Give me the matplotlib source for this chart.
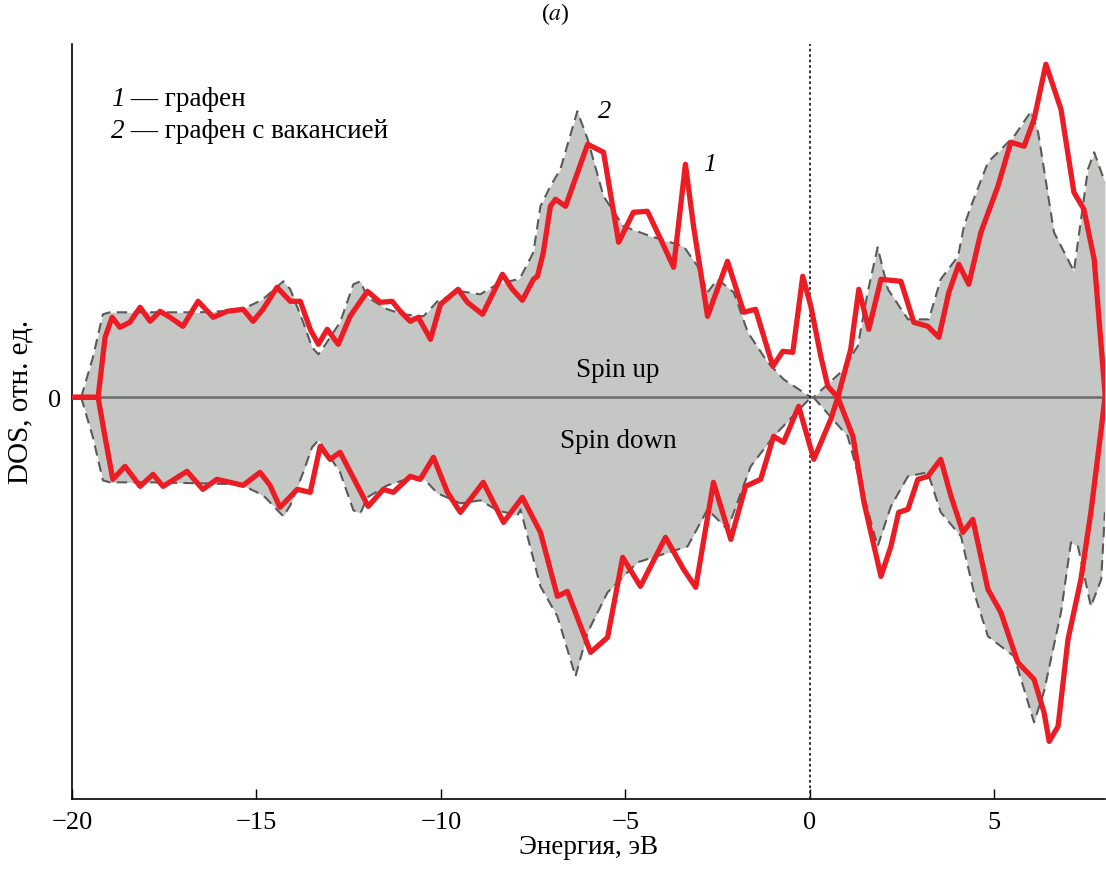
import matplotlib.pyplot as plt

plt.rcParams["font.family"] = ["Liberation Serif", "DejaVu Serif"]
plt.rcParams["mathtext.fontset"] = "stix"

# graphene with vacancy (grey fill), spin up / spin down
grey_up_e = [-19.75, -19.43, -19.16, -18.97, -17.88, -16.53, -15.44, -14.98, -14.76, -14.27,
             -14.08, -13.73, -13.49, -13.32, -13.27, -12.73, -12.37, -12.18, -11.99, -11.45,
             -11.02, -10.47, -10.09, -9.47, -8.93, -8.47, -7.92, -7.84, -7.49, -7.30,
             -7.03, -6.76, -6.30, -6.02, -5.59, -5.05, -4.31, -3.42, -3.04, -2.77,
             -2.50, -2.06, -1.68, -1.14, -0.71, 0.03, 0.10, 0.84, 1.30, 1.57,
             1.84, 2.12, 2.66, 3.23, 3.55, 4.02, 4.18, 4.37, 4.83, 5.54,
             6.00, 6.19, 6.62, 7.16, 7.54, 7.71, 8.0]
grey_up = [0.0, 0.40, 0.83, 0.85, 0.85, 0.85, 0.87, 0.95, 1.00, 1.16,
           1.08, 0.75, 0.50, 0.43, 0.45, 0.75, 1.13, 1.16, 1.00, 0.88,
           0.83, 0.81, 0.96, 1.06, 1.03, 1.13, 1.18, 1.20, 1.45, 1.91,
           2.11, 2.28, 2.86, 2.58, 2.01, 1.71, 1.61, 1.51, 1.31, 1.05,
           1.18, 1.05, 0.65, 0.35, 0.18, 0.0, 0.0, 0.25, 0.51, 1.05,
           1.50, 1.08, 0.78, 0.78, 1.18, 1.41, 1.71, 1.91, 2.35, 2.61,
           2.86, 2.65, 1.65, 1.26, 2.28, 2.45, 2.15]

grey_dn_e = [-19.75, -19.43, -19.16, -18.97, -17.88, -16.53, -15.44, -14.98, -14.76, -14.27,
             -14.08, -13.73, -13.49, -13.32, -13.27, -12.73, -12.37, -12.18, -11.99, -11.45,
             -11.02, -10.47, -10.09, -9.47, -8.93, -8.47, -7.92, -7.84, -7.30, -6.84,
             -6.35, -6.02, -5.48, -4.67, -3.31, -2.77, -2.23, -1.60, -0.98, 0.03,
             0.10, 1.03, 1.84, 2.20, 2.66, 3.20, 3.55, 4.10, 4.45, 4.83,
             5.54, 6.08, 6.35, 6.81, 7.08, 7.27, 7.62, 7.90, 8.0]
grey_dn = [0.0, -0.40, -0.83, -0.85, -0.85, -0.86, -0.87, -0.95, -1.00, -1.19,
           -1.08, -0.75, -0.50, -0.43, -0.45, -0.75, -1.13, -1.16, -1.00, -0.88,
           -0.83, -0.81, -0.96, -1.06, -1.03, -1.13, -1.18, -1.12, -1.89, -2.19,
           -2.79, -2.35, -1.95, -1.65, -1.49, -1.12, -1.32, -0.69, -0.39, 0.0,
           0.0, -0.39, -1.49, -1.09, -0.79, -0.75, -1.15, -1.39, -1.95, -2.39,
           -2.59, -3.25, -2.94, -2.15, -1.45, -1.49, -2.09, -1.82, -1.15]

# pristine graphene (red)
red_up_e = [-20.0, -19.29, -19.10, -18.91, -18.70, -18.43, -18.15, -17.88, -17.61, -17.34,
            -16.99, -16.58, -16.17, -15.79, -15.36, -15.09, -14.82, -14.44, -14.08, -13.81,
            -13.54, -13.32, -13.08, -12.78, -12.46, -11.99, -11.64, -11.32, -11.10, -10.83,
            -10.61, -10.28, -10.01, -9.53, -9.28, -8.87, -8.33, -8.06, -7.79, -7.49,
            -7.38, -7.22, -7.03, -6.89, -6.62, -6.02, -5.59, -5.18, -4.78, -4.40,
            -4.04, -3.69, -3.37, -3.15, -2.77, -2.23, -1.79, -1.47, -1.00, -0.73,
            -0.46, -0.19, 0.03, 0.30, 0.49, 0.76, 1.11, 1.33, 1.60, 1.93,
            2.47, 2.82, 3.20, 3.50, 3.77, 4.04, 4.31, 4.64, 5.10, 5.45,
            5.81, 6.08, 6.40, 6.81, 7.16, 7.43, 7.71, 8.0]
red_up = [0.0, 0.0, 0.60, 0.80, 0.70, 0.75, 0.90, 0.76, 0.86, 0.80,
          0.71, 0.96, 0.80, 0.86, 0.88, 0.76, 0.88, 1.10, 0.96, 0.96,
          0.68, 0.53, 0.68, 0.53, 0.81, 1.06, 0.95, 0.96, 0.86, 0.76,
          0.80, 0.58, 0.93, 1.08, 0.95, 0.83, 1.23, 1.08, 0.97, 1.18,
          1.21, 1.45, 1.91, 1.98, 1.91, 2.53, 2.45, 1.55, 1.85, 1.86,
          1.58, 1.30, 2.33, 1.71, 0.81, 1.36, 0.85, 0.88, 0.31, 0.46,
          0.45, 1.21, 0.91, 0.41, 0.11, 0.0, 0.48, 1.08, 0.68, 1.18,
          1.16, 0.75, 0.71, 0.60, 1.05, 1.33, 1.13, 1.65, 2.11, 2.55,
          2.51, 2.78, 3.33, 2.88, 2.05, 1.88, 1.38, 0.05]

red_dn_e = [-20.0, -19.29, -19.10, -18.89, -18.56, -18.15, -17.80, -17.53, -16.88, -16.45,
            -16.07, -15.71, -15.36, -14.90, -14.63, -14.36, -13.89, -13.54, -13.27, -13.00,
            -12.73, -11.97, -11.56, -11.29, -10.83, -10.56, -10.20, -9.82, -9.47, -8.85,
            -8.30, -7.79, -7.30, -6.84, -6.57, -5.94, -5.48, -5.07, -4.59, -3.91,
            -3.42, -3.09, -2.61, -2.14, -1.74, -1.33, -0.98, -0.71, -0.30, 0.11,
            0.57, 0.76, 1.17, 1.47, 1.93, 2.20, 2.41, 2.66, 2.93, 3.20,
            3.55, 3.83, 4.15, 4.42, 4.83, 5.18, 5.64, 6.08, 6.35, 6.49,
            6.73, 7.00, 7.35, 7.62, 7.90, 8.0]
red_dn = [0.0, 0.0, -0.40, -0.82, -0.69, -0.89, -0.77, -0.89, -0.74, -0.92,
          -0.82, -0.85, -0.88, -0.75, -0.88, -1.10, -0.92, -0.95, -0.49, -0.62,
          -0.55, -1.09, -0.92, -0.95, -0.79, -0.82, -0.60, -0.95, -1.15, -0.85,
          -1.25, -1.00, -1.35, -1.99, -1.94, -2.55, -2.40, -1.60, -1.89, -1.40,
          -1.72, -1.90, -0.85, -1.42, -0.89, -0.82, -0.39, -0.45, -0.09, -0.62,
          -0.22, 0.0, -0.39, -1.05, -1.79, -1.49, -1.15, -1.12, -0.82, -0.79,
          -0.62, -0.99, -1.35, -1.22, -1.92, -2.15, -2.65, -2.82, -3.15, -3.44,
          -3.29, -2.42, -1.82, -1.15, -0.32, 0.0]

x_ticks = [-20, -15, -10, -5, 0, 5]
legend_items = [("1", " — графен"), ("2", " — графен с вакансией")]

fig = plt.figure(figsize=(11.06, 8.70), dpi=100)
ax = fig.add_axes([0.065, 0.080, 0.934, 0.868])

grey_fill = "#c5c7c5"
ax.fill_between(grey_up_e, 0, grey_up, color=grey_fill, lw=0, zorder=1)
ax.fill_between(grey_dn_e, 0, grey_dn, color=grey_fill, lw=0, zorder=1)
ax.plot(grey_up_e, grey_up, color="#5a5a5a", lw=1.5, ls=(0, (5, 3)), zorder=2)
ax.plot(grey_dn_e, grey_dn, color="#5a5a5a", lw=1.5, ls=(0, (5, 3)), zorder=2)

ax.axhline(0, color="#6a6a6a", lw=1.8, zorder=3)
ax.axvline(0, color="#222222", lw=1.3, ls=(0, (1.5, 1.5)), zorder=3)

red = "#ec1c24"
ax.plot(red_up_e, red_up, color=red, lw=3.8, solid_joinstyle="round", zorder=4)
ax.plot(red_dn_e, red_dn, color=red, lw=3.8, solid_joinstyle="round", zorder=4)

ax.set_xlim(-20, 8)
ax.set_ylim(-4.02, 3.53)
ax.set_xticks(x_ticks)
ax.set_yticks([0])
ax.tick_params(direction="in", length=7, width=1, labelsize=19, pad=8)
for s in ["top", "right"]:
    ax.spines[s].set_visible(False)
for s in ["left", "bottom"]:
    ax.spines[s].set_linewidth(1.2)

ax.set_xlabel("Энергия, эВ", fontsize=19.5, labelpad=1)
ax.set_ylabel("DOS, отн. ед.", fontsize=21)
ax.yaxis.set_label_coords(-0.037, 0.527)

fig.text(0.502, 0.984, "($\\it{a}$)", fontsize=17, ha="center", va="center")

for (num, label), y in zip(legend_items, [2.86, 2.54]):
    t = ax.text(-18.95, y, num, fontsize=19.5, style="italic", va="bottom")
    ax.annotate(label, xy=(1, 0), xycoords=t, fontsize=19.5, va="bottom")

ax.text(-5.55, 2.86, "2", fontsize=19, style="italic", ha="center", va="center")
ax.text(-2.7, 2.33, "1", fontsize=19, style="italic", ha="center", va="center")

ax.text(-5.2, 0.28, "Spin up", fontsize=19.5, ha="center", va="center")
ax.text(-5.2, -0.43, "Spin down", fontsize=19.5, ha="center", va="center")

fig.savefig("out.png", dpi=100)
